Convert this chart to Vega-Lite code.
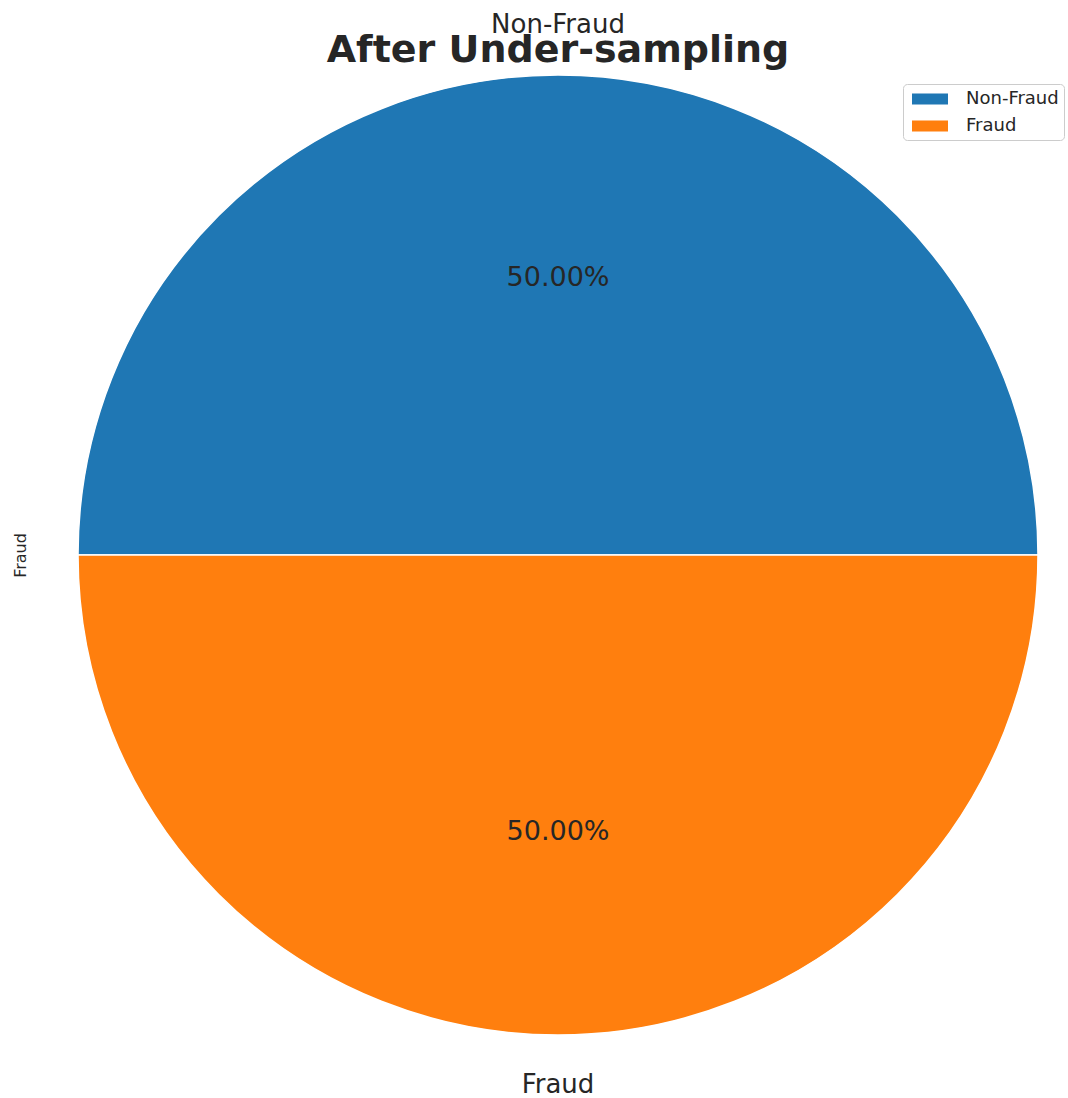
{
  "$schema": "https://vega.github.io/schema/vega-lite/v6.json",
  "autosize": {"type": "none"},
  "width": 1020,
  "height": 1086,
  "padding": {"left": 48, "top": 12, "right": 0, "bottom": 0},
  "background": "white",
  "config": {"view": {"stroke": null}, "font": "DejaVu Sans"},
  "title": {
    "text": "After Under-sampling",
    "font": "DejaVu Sans",
    "fontSize": 38,
    "fontWeight": "bold",
    "color": "#262626",
    "anchor": "middle",
    "baseline": "alphabetic",
    "offset": -51,
    "dy": 37
  },
  "data": {
    "values": [
      {"label": "Non-Fraud", "count": 492, "pct": "50.00%"},
      {"label": "Fraud", "count": 492, "pct": "50.00%"}
    ]
  },
  "layer": [
    {
      "mark": {"type": "point", "opacity": 0},
      "encoding": {
        "y": {
          "field": "count",
          "type": "quantitative",
          "axis": {
            "title": "Fraud",
            "labels": false,
            "ticks": false,
            "domain": false,
            "grid": false,
            "titleFont": "DejaVu Sans",
            "titleFontSize": 16,
            "titleFontWeight": "normal",
            "titleColor": "#262626",
            "titlePadding": 20
          }
        }
      }
    },
    {
      "mark": {"type": "arc", "outerRadius": 480, "stroke": "white", "strokeWidth": 1.5},
      "encoding": {
        "theta": {"field": "count", "type": "quantitative", "stack": true, "scale": {"range": [-1.57079633, 4.71238898]}},
        "order": {"field": "label", "sort": "descending"},
        "color": {
          "field": "label",
          "type": "nominal",
          "sort": ["Non-Fraud", "Fraud"],
          "scale": {"domain": ["Non-Fraud", "Fraud"], "range": ["#1f77b4", "#ff7f0e"]},
          "legend": {
            "title": null,
            "orient": "none",
            "legendX": 855,
            "legendY": 72,
            "padding": 5,
            "strokeColor": "#cccccc",
            "fillColor": "white",
            "cornerRadius": 4,
            "labelFont": "DejaVu Sans",
            "labelFontSize": 18,
            "labelColor": "#262626",
            "labelOffset": 38,
            "symbolType": "M-0.6,-0.55L3,-0.55L3,0.55L-0.6,0.55Z",
            "symbolSize": 400,
            "symbolStrokeWidth": 0,
            "rowPadding": 8
          }
        }
      }
    },
    {
      "mark": {"type": "text", "radius": 277, "font": "DejaVu Sans", "fontSize": 27, "color": "#262626", "baseline": "middle", "align": "center"},
      "encoding": {
        "theta": {"field": "count", "type": "quantitative", "stack": true},
        "order": {"field": "label", "sort": "descending"},
        "text": {"field": "pct", "type": "nominal"}
      }
    },
    {
      "mark": {"type": "text", "radius": 530, "font": "DejaVu Sans", "fontSize": 26, "color": "#262626", "baseline": "middle", "align": "center"},
      "encoding": {
        "theta": {"field": "count", "type": "quantitative", "stack": true},
        "order": {"field": "label", "sort": "descending"},
        "text": {"field": "label", "type": "nominal"}
      }
    }
  ]
}
